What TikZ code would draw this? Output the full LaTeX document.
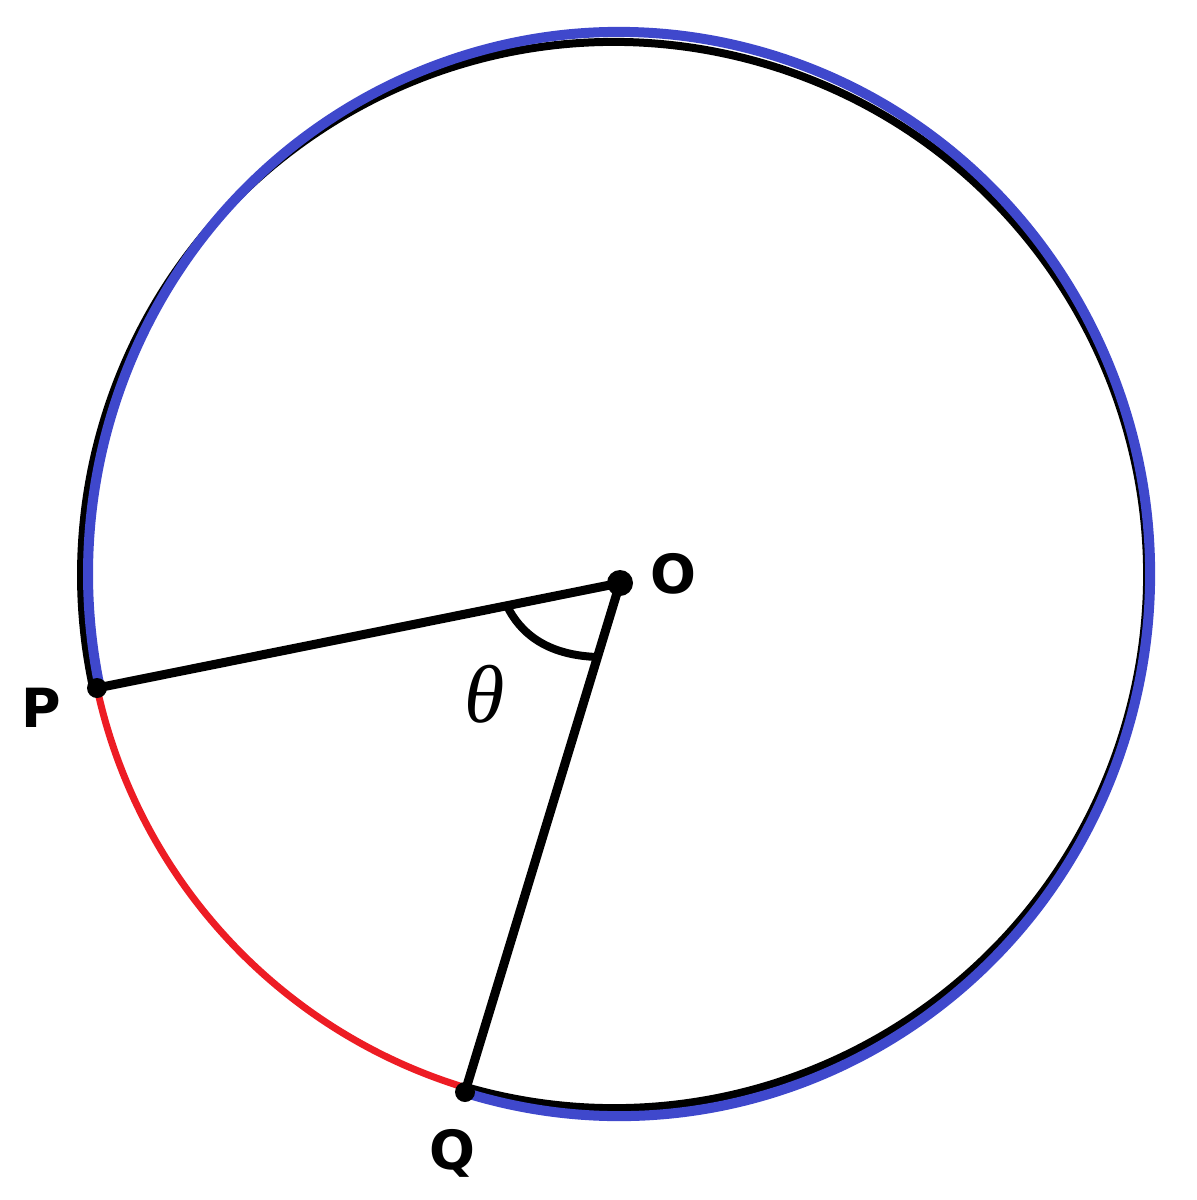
\documentclass[tikz,border=0pt]{standalone}
\usepackage{fontspec}
\newfontfamily\labfont{DejaVu Sans}
\newfontfamily\thfont{Liberation Serif}
\definecolor{pblue}{RGB}{63,72,204}
\definecolor{pred}{RGB}{237,28,36}
\begin{document}
\begin{tikzpicture}[x=0.5pt,y=-0.5pt,
  blk/.style={line width=4.5pt,black},
  dotst/.style={circle,fill=black,inner sep=0pt,minimum size=13pt},
  pdot/.style={circle,fill=black,inner sep=0pt,minimum size=10pt},
  lab/.style={font=\labfont\bfseries\fontsize{27}{30}\selectfont,inner sep=0pt}]
\useasboundingbox (0,0) rectangle (1196,1200);
% circles (major arc from Q round to P)
\draw[line width=4pt,black] (614,575) ++(106.1:533) arc[start angle=106.1, end angle=-192.3, radius=533];
\draw[line width=5pt,pblue] (619,574) ++(106.9:531 and 542) arc[start angle=106.9, end angle=-192.1, x radius=531, y radius=542];
% points
\coordinate (O) at (620,583);
\coordinate (P) at (97,688);
\coordinate (Q) at (465,1092);
% red arc
\draw[line width=3.5pt,pred] (P) arc[start angle=167.8, end angle=106.2, radius=536];
% radii
\draw[blk] (O) -- (P);
\draw[blk] (O) -- (Q);
% angle mark
\coordinate (a1) at (507,606);
\coordinate (a2) at (597,657);
\draw[line width=4pt] (a1) .. controls (520,632) and (545,655) .. (a2);
\node[dotst] (Od) at (O) {};
\node[pdot] (Pd) at (P) {};
\node[pdot] (Qd) at (Q) {};
% labels
\node[lab] (Ol) at (673,574) {O};
\node[lab] (Pl) at (41,708) {P};
\node[lab] (Ql) at (452,1153) {Q};
\node[inner sep=0pt,font=\thfont\itshape\fontsize{41}{44}\selectfont] (th) at (485,694) {θ};
\end{tikzpicture}
\end{document}
